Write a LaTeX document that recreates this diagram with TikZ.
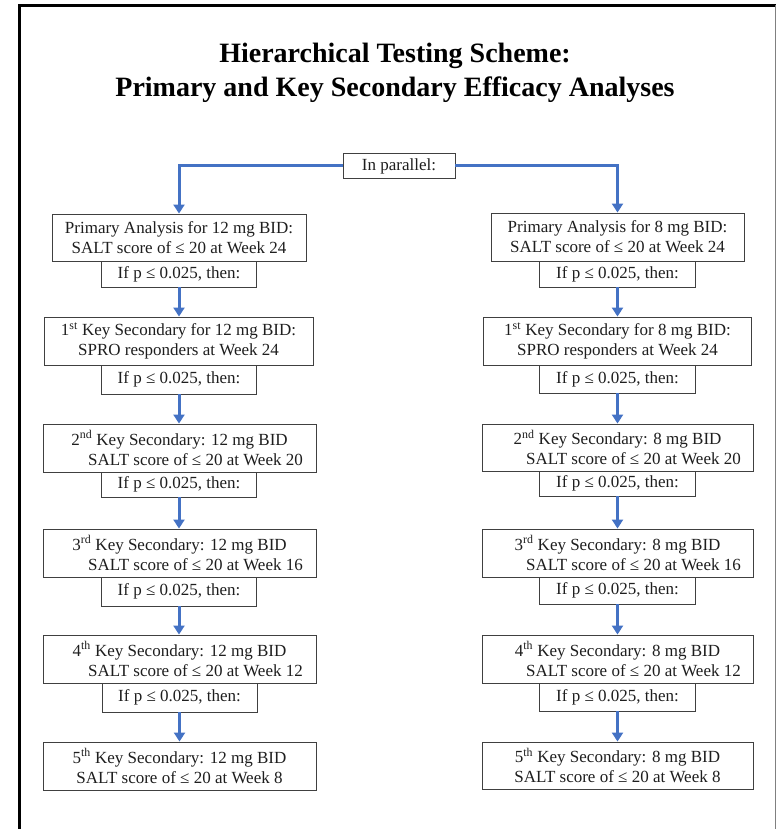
\documentclass[tikz,border=0pt]{standalone}
\usepackage{fontspec}
\setmainfont{Liberation Serif}
\usetikzlibrary{arrows.meta}
\definecolor{flowblue}{HTML}{4472C4}
\definecolor{boxline}{HTML}{404040}
\definecolor{txt}{HTML}{1E1E1E}
\tikzset{
  box/.style={draw=boxline, line width=0.9pt, fill=white, inner sep=0pt, align=center,
    text=txt, font=\fontsize{17}{20}\selectfont},
  bigbox/.style={box, minimum height=48pt},
  ifbox/.style={box, minimum width=155pt},
  flow/.style={draw=flowblue, line width=3pt, -{Triangle[width=11pt,length=9pt]}},
  title/.style={align=center, font=\fontsize{28}{34}\selectfont\bfseries, text=black, inner sep=0pt}
}
\newcommand{\ifp}{If p ≤ 0.025, then:}
\begin{document}
\begin{tikzpicture}[x=1pt,y=-1pt]
\useasboundingbox (0,0) rectangle (777,829);
% frame
\draw[line width=2.5pt, black] (19.5,829) -- (19.5,5.5) -- (775.5,5.5);
\draw[line width=1.5pt, gray] (775.5,5.5) -- (775.5,829);
% title
\node[title, anchor=base] (t1) at (395,63) {Hierarchical Testing Scheme:};
\node[title, anchor=base] (t2) at (395,97) {Primary and Key Secondary Efficacy Analyses};
% parallel
\node[box, minimum width=112pt, minimum height=25pt] (P) at (399,166) {In parallel:};
% left column
\node[box, minimum width=254pt, minimum height=47pt] (L1) at (179,237.5) {Primary Analysis for 12 mg BID:\\SALT score of ≤ 20 at Week 24};
\node[ifbox, minimum height=26pt] (LI1) at (179,274) {\ifp};
\node[bigbox, minimum width=269pt] (L2) at (178.5,341) {1\textsuperscript{st} Key Secondary for 12 mg BID:\\SPRO responders at Week 24};
\node[ifbox, minimum height=29pt] (LI2) at (179,379.5) {\ifp};
\node[bigbox, minimum width=273pt] (L3) at (179.5,448) {2\textsuperscript{nd} Key Secondary: 12 mg BID\\\hspace*{32pt}SALT score of ≤ 20 at Week 20};
\node[ifbox, minimum height=25pt] (LI3) at (179,484.5) {\ifp};
\node[bigbox, minimum width=273pt] (L4) at (179.5,553) {3\textsuperscript{rd} Key Secondary: 12 mg BID\\\hspace*{32pt}SALT score of ≤ 20 at Week 16};
\node[ifbox, minimum height=29pt] (LI4) at (179,591.5) {\ifp};
\node[bigbox, minimum width=273pt] (L5) at (179.5,659) {4\textsuperscript{th} Key Secondary: 12 mg BID\\\hspace*{32pt}SALT score of ≤ 20 at Week 12};
\node[ifbox, minimum height=29pt] (LI5) at (179.5,697.5) {\ifp};
\node[bigbox, minimum width=273pt] (L6) at (179.5,766) {5\textsuperscript{th} Key Secondary: 12 mg BID\\SALT score of ≤ 20 at Week 8};
% right column
\node[box, minimum width=253pt, minimum height=48pt] (R1) at (617.5,237) {Primary Analysis for 8 mg BID:\\SALT score of ≤ 20 at Week 24};
\node[ifbox, minimum width=156pt, minimum height=26pt] (RI1) at (617.5,274) {\ifp};
\node[bigbox, minimum width=268pt] (R2) at (617.5,341) {1\textsuperscript{st} Key Secondary for 8 mg BID:\\SPRO responders at Week 24};
\node[ifbox, minimum width=156pt, minimum height=28pt] (RI2) at (617.5,379) {\ifp};
\node[bigbox, minimum width=271pt, minimum height=47pt] (R3) at (617.5,447.5) {2\textsuperscript{nd} Key Secondary: 8 mg BID\\\hspace*{32pt}SALT score of ≤ 20 at Week 20};
\node[ifbox, minimum width=156pt, minimum height=25pt] (RI3) at (617.5,483.5) {\ifp};
\node[bigbox, minimum width=271pt] (R4) at (617.5,553) {3\textsuperscript{rd} Key Secondary: 8 mg BID\\\hspace*{32pt}SALT score of ≤ 20 at Week 16};
\node[ifbox, minimum width=156pt, minimum height=27pt] (RI4) at (617.5,590.5) {\ifp};
\node[bigbox, minimum width=271pt] (R5) at (617.5,659) {4\textsuperscript{th} Key Secondary: 8 mg BID\\\hspace*{32pt}SALT score of ≤ 20 at Week 12};
\node[ifbox, minimum width=156pt, minimum height=28pt] (RI5) at (617.5,697) {\ifp};
\node[bigbox, minimum width=271pt, minimum height=47pt] (R6) at (617.5,765.5) {5\textsuperscript{th} Key Secondary: 8 mg BID\\SALT score of ≤ 20 at Week 8};
% connectors
\draw[flow] (P.west) -| (L1.north);
\draw[flow] (P.east) -| (R1.north);
\foreach \a/\b in {LI1/L2,LI2/L3,LI3/L4,LI4/L5,LI5/L6,RI1/R2,RI2/R3,RI3/R4,RI4/R5,RI5/R6}
  \draw[flow] (\a.south) -- (\a.south |- \b.north);
\end{tikzpicture}
\end{document}
